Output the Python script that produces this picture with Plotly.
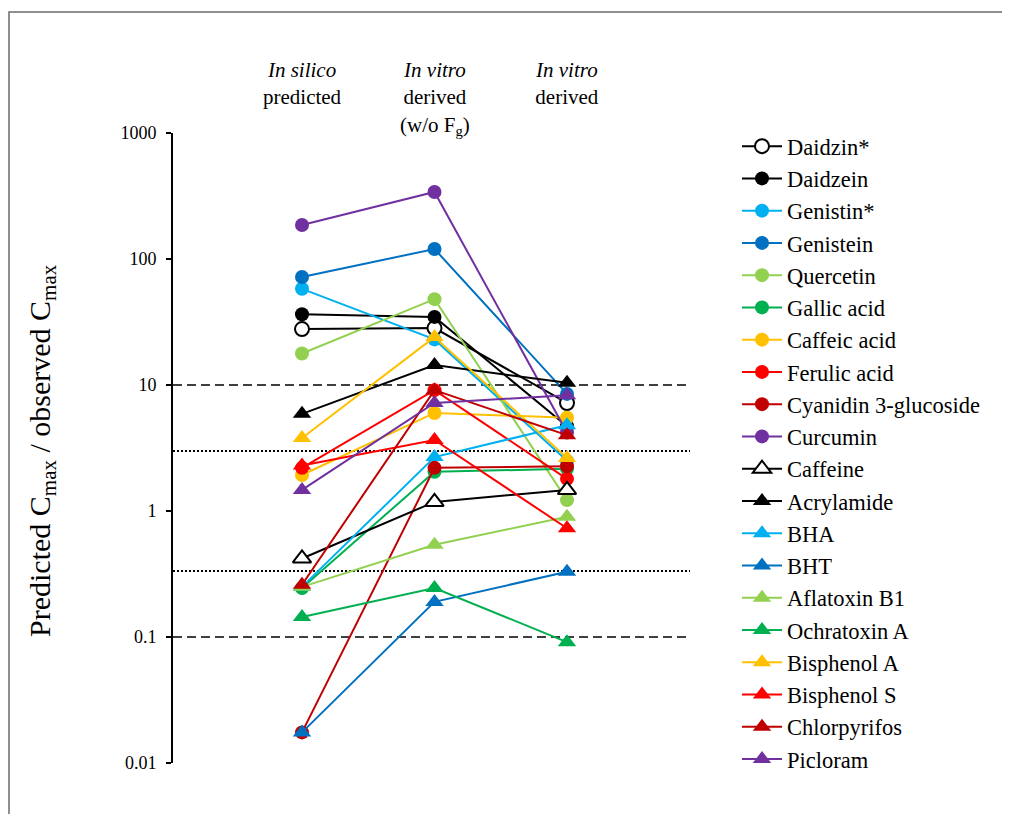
import plotly.graph_objects as go

categories = [1, 2, 3]
header_texts = ["<i>In silico</i><br>predicted",
                "<i>In vitro</i><br>derived<br>(w/o F<sub>g</sub>)",
                "<i>In vitro</i><br>derived"]

names = ["Daidzin*", "Daidzein", "Genistin*", "Genistein", "Quercetin",
         "Gallic acid", "Caffeic acid", "Ferulic acid", "Cyanidin 3-glucoside",
         "Curcumin", "Caffeine", "Acrylamide", "BHA", "BHT", "Aflatoxin B1",
         "Ochratoxin A", "Bisphenol A", "Bisphenol S", "Chlorpyrifos", "Picloram"]

daidzin = [27.8, 28.3, 7.2]
daidzein = [36.4, 34.7, 4.7]
genistin = [58, 23, 2.5]
genistein = [72, 120, 8.5]
quercetin = [17.8, 48, 1.22]
gallic_acid = [0.245, 2.05, 2.16]
caffeic_acid = [1.93, 6.0, 5.5]
ferulic_acid = [2.2, 9.1, 1.8]
cyanidin = [0.0175, 2.2, 2.27]
curcumin = [186, 340, 4.2]
caffeine = [0.42, 1.18, 1.47]
acrylamide = [5.9, 14.4, 10.4]
bha = [0.25, 2.68, 4.8]
bht = [0.0175, 0.19, 0.33]
aflatoxin_b1 = [0.25, 0.54, 0.9]
ochratoxin_a = [0.144, 0.245, 0.091]
bisphenol_a = [3.8, 24, 2.64]
bisphenol_s = [2.3, 3.66, 0.73]
chlorpyrifos = [0.26, 9.1, 4.0]
picloram = [1.47, 7.2, 8.3]

series_values = [daidzin, daidzein, genistin, genistein, quercetin, gallic_acid,
                 caffeic_acid, ferulic_acid, cyanidin, curcumin, caffeine,
                 acrylamide, bha, bht, aflatoxin_b1, ochratoxin_a, bisphenol_a,
                 bisphenol_s, chlorpyrifos, picloram]

colors = ["#000000", "#000000", "#00B0F0", "#0070C0", "#92D050", "#00B050",
          "#FFC000", "#FF0000", "#C00000", "#7030A0",
          "#000000", "#000000", "#00B0F0", "#0070C0", "#92D050", "#00B050",
          "#FFC000", "#FF0000", "#C00000", "#7030A0"]
symbols = ["circle"] * 10 + ["triangle-up"] * 10
open_marker = [True, False] + [False] * 8 + [True, False] + [False] * 8

ref_dashed = [10, 0.1]
ref_dotted = [3, 1 / 3]

tick_vals = [0.01, 0.1, 1, 10, 100, 1000]
tick_text = ["0.01", "0.1", "1", "10", "100", "1000"]

FONT = "Liberation Serif"
OFF = 8  # page body margin
W, H = 1010 - OFF, 814 - OFF
# targets in reference-picture pixels
AX_L, AX_R, AX_T, AX_B = 173, 690, 133, 763
L, T = AX_L - OFF, AX_T - OFF
R = W - (AX_R - OFF)
B = H - (AX_B - OFF)
PW, PH = W - L - R, H - T - B


def px_x(p):
    return (p - OFF - L) / PW


def px_y(p):
    return (H - B - (p - OFF)) / PH


unit = (567 - 302) / 2.0
x0 = 1 - (302 - AX_L) / unit
x1 = x0 + PW / unit

fig = go.Figure()
for i, (nm, vals) in enumerate(zip(names, series_values)):
    c = colors[i]
    sym = symbols[i]
    size = 14 if sym == "circle" else 16
    fig.add_trace(go.Scatter(
        x=categories, y=vals, name=nm, mode="lines+markers",
        legendgroup=nm,
        line=dict(color=c, width=2),
        marker=dict(symbol=sym, size=size,
                    color="white" if open_marker[i] else c,
                    line=dict(color=c, width=2 if open_marker[i] else 0)),
    ))

shapes = []
for v in ref_dashed:
    shapes.append(dict(type="line", xref="paper", yref="y", x0=0, x1=1, y0=v, y1=v,
                       line=dict(color="black", width=1.5, dash="9px,5px"), layer="below"))
for v in ref_dotted:
    shapes.append(dict(type="line", xref="paper", yref="y", x0=0, x1=1, y0=v, y1=v,
                       line=dict(color="black", width=2, dash="2px,2px"), layer="below"))
# outer frame (left edge placed at the page's left limit)
shapes.append(dict(type="rect", xref="paper", yref="paper",
                   x0=px_x(OFF + 1), x1=px_x(1030), y0=px_y(840), y1=px_y(12),
                   line=dict(color="#6b6b6b", width=1.5), fillcolor="rgba(0,0,0,0)"))

annotations = []
for xc, txt in zip(categories, header_texts):
    annotations.append(dict(x=xc, y=px_y(56), xref="x", yref="paper", text=txt,
                            showarrow=False, xanchor="center", yanchor="top",
                            font=dict(family=FONT, size=21, color="black"), align="center"))
annotations.append(dict(x=px_x(42), y=px_y(451), xref="paper", yref="paper",
                        text="Predicted C<sub>max</sub> / observed C<sub>max</sub>",
                        textangle=-90, showarrow=False, xanchor="center", yanchor="middle",
                        font=dict(family=FONT, size=30, color="black")))

fig.update_layout(
    width=W, height=H,
    margin=dict(l=L, r=R, t=T, b=B),
    paper_bgcolor="white", plot_bgcolor="white",
    showlegend=True,
    legend=dict(x=px_x(737), y=px_y(125), xanchor="left", yanchor="top",
                font=dict(family=FONT, size=22.5, color="black"),
                tracegroupgap=0, itemwidth=40, maxheight=760,
                bgcolor="rgba(0,0,0,0)"),
    xaxis=dict(range=[x0, x1], visible=False, showgrid=False, zeroline=False),
    yaxis=dict(type="log", range=[-2, 3], tickvals=tick_vals, ticktext=tick_text,
               showgrid=False, zeroline=False, showline=True, linecolor="black",
               linewidth=2, ticks="outside", ticklen=5, tickwidth=2, tickcolor="black",
               ticklabelstandoff=6,
               tickfont=dict(family=FONT, size=18, color="black")),
    shapes=shapes,
    annotations=annotations,
)

fig.write_html("out.html")
